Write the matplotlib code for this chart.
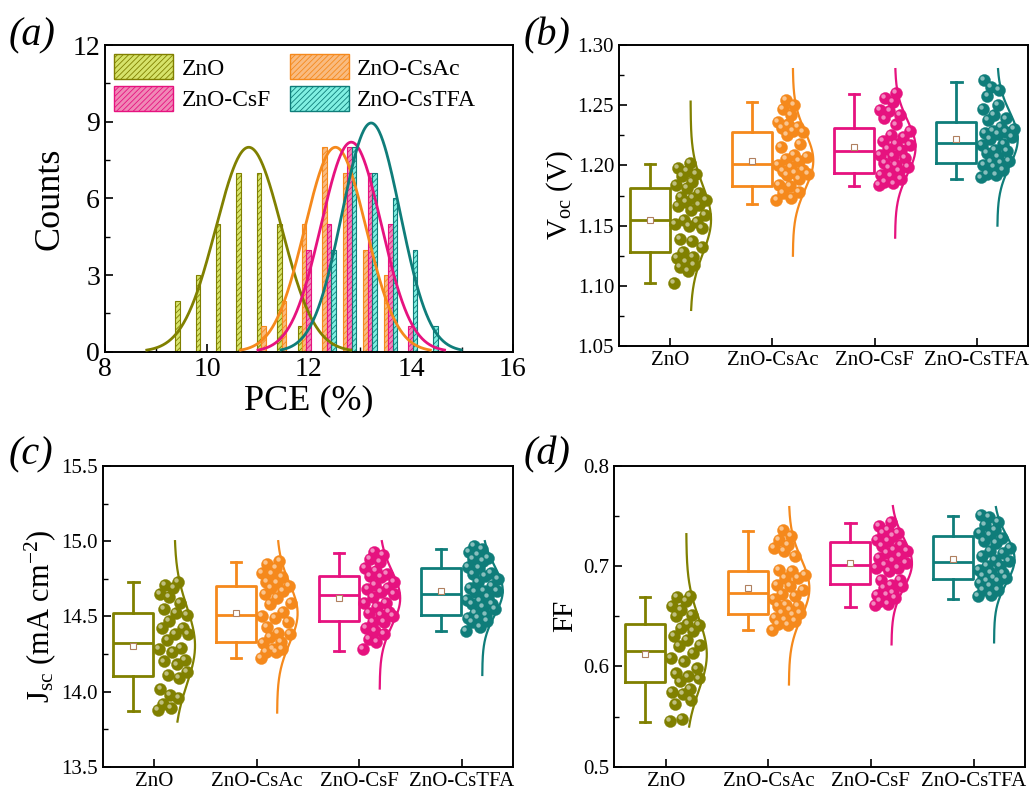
import numpy as np
import matplotlib.pyplot as plt
import matplotlib.transforms as mtrans
from matplotlib.patches import Patch
from matplotlib.ticker import MultipleLocator

plt.rcParams['font.family'] = ['Liberation Serif', 'DejaVu Serif']
plt.rcParams['mathtext.fontset'] = 'custom'
plt.rcParams['mathtext.rm'] = 'Liberation Serif'
plt.rcParams['mathtext.it'] = 'Liberation Serif:italic'
plt.rcParams['mathtext.default'] = 'regular'
plt.rcParams['hatch.linewidth'] = 0.6
plt.rcParams['xtick.direction'] = 'in'
plt.rcParams['ytick.direction'] = 'in'

# ---------------- data ----------------
groups = ['ZnO', 'ZnO-CsAc', 'ZnO-CsF', 'ZnO-CsTFA']
line_colors = ['#808000', '#f5891c', '#e6127f', '#0f7d7a']
fill_colors = ['#d6e36a', '#f9bb80', '#f088b6', '#80f0e2']

# (a) PCE histogram, bin width 0.4
pce_bins = [9.4, 9.8, 10.2, 10.6, 11.0, 11.4, 11.8, 12.2, 12.6, 13.0, 13.4, 13.8, 14.2]
cnt_zno   = [2, 3, 5, 7, 7, 5, 1, 0, 0, 0, 0, 0, 0]
cnt_csac  = [0, 0, 0, 0, 1, 2, 5, 8, 7, 4, 3, 0, 0]
cnt_csf   = [0, 0, 0, 0, 0, 0, 4, 5, 8, 7, 5, 1, 0]
cnt_cstfa = [0, 0, 0, 0, 0, 0, 0, 4, 8, 7, 6, 4, 1]
# gaussian fits: centre, sigma, height
fit_mu  = [10.82, 12.52, 12.83, 13.22]
fit_sd  = [0.645, 0.60, 0.59, 0.57]
fit_amp = [8.0, 8.0, 8.2, 8.95]

# (b) Voc box stats
voc_q1   = [1.128, 1.183, 1.194, 1.202]
voc_med  = [1.155, 1.201, 1.212, 1.219]
voc_q3   = [1.181, 1.228, 1.231, 1.236]
voc_lo   = [1.102, 1.168, 1.183, 1.189]
voc_hi   = [1.201, 1.253, 1.259, 1.269]
voc_mean = [1.155, 1.204, 1.215, 1.222]
voc_crv_lo = [1.080, 1.125, 1.140, 1.150]
voc_crv_hi = [1.253, 1.280, 1.280, 1.280]
voc_zno = [1.202, 1.198, 1.195, 1.191, 1.184, 1.193, 1.186, 1.181, 1.177, 1.174,
           1.173, 1.171, 1.166, 1.170, 1.167, 1.163, 1.159, 1.155, 1.151, 1.148,
           1.153, 1.150, 1.139, 1.137, 1.132, 1.128, 1.124, 1.120, 1.123, 1.117,
           1.116, 1.112, 1.102]
voc_csac = [1.254, 1.250, 1.247, 1.242, 1.236, 1.234, 1.231, 1.232, 1.229, 1.225,
            1.228, 1.215, 1.218, 1.209, 1.207, 1.204, 1.205, 1.200, 1.199, 1.196,
            1.195, 1.193, 1.194, 1.192, 1.189, 1.184, 1.183, 1.178, 1.177, 1.173,
            1.171]
voc_csf = [1.260, 1.256, 1.253, 1.246, 1.245, 1.239, 1.242, 1.234, 1.229, 1.225,
           1.224, 1.218, 1.220, 1.217, 1.213, 1.214, 1.209, 1.206, 1.202, 1.208,
           1.200, 1.198, 1.195, 1.192, 1.191, 1.189, 1.186, 1.185, 1.184, 1.199]
voc_cstfa = [1.271, 1.265, 1.263, 1.258, 1.250, 1.247, 1.242, 1.238, 1.239, 1.232,
             1.229, 1.227, 1.224, 1.226, 1.230, 1.228, 1.222, 1.218, 1.217, 1.213,
             1.212, 1.210, 1.207, 1.203, 1.202, 1.199, 1.200, 1.204, 1.193, 1.192,
             1.196, 1.190]

# (c) Jsc box stats
jsc_q1   = [14.10, 14.33, 14.47, 14.51]
jsc_med  = [14.32, 14.51, 14.645, 14.65]
jsc_q3   = [14.52, 14.70, 14.77, 14.82]
jsc_lo   = [13.87, 14.22, 14.27, 14.40]
jsc_hi   = [14.73, 14.86, 14.92, 14.95]
jsc_mean = [14.305, 14.52, 14.62, 14.67]
jsc_crv_lo = [13.80, 13.86, 14.02, 14.11]
jsc_crv_hi = [15.0, 15.0, 15.0, 15.0]
jsc_zno = [14.73, 14.69, 14.71, 14.65, 14.63, 14.59, 14.55, 14.52, 14.51, 14.47,
           14.42, 14.42, 14.38, 14.38, 14.34, 14.29, 14.28, 14.26, 14.21, 14.20,
           14.18, 14.13, 14.09, 14.11, 14.02, 13.98, 13.96, 13.92, 13.88, 13.89]
jsc_csac = [14.87, 14.85, 14.82, 14.79, 14.78, 14.76, 14.73, 14.72, 14.70, 14.69,
            14.67, 14.65, 14.62, 14.59, 14.58, 14.53, 14.50, 14.49, 14.46, 14.43,
            14.39, 14.38, 14.36, 14.33, 14.32, 14.28, 14.28, 14.26, 14.26, 14.22]
jsc_csf = [14.93, 14.91, 14.88, 14.86, 14.82, 14.80, 14.77, 14.78, 14.76, 14.73,
           14.71, 14.69, 14.68, 14.66, 14.65, 14.63, 14.59, 14.59, 14.56, 14.53,
           14.52, 14.51, 14.50, 14.46, 14.46, 14.42, 14.40, 14.38, 14.35, 14.33,
           14.28]
jsc_cstfa = [14.97, 14.95, 14.93, 14.91, 14.89, 14.88, 14.87, 14.83, 14.82, 14.79,
             14.78, 14.77, 14.75, 14.73, 14.70, 14.69, 14.67, 14.67, 14.66, 14.63,
             14.61, 14.60, 14.58, 14.58, 14.56, 14.55, 14.52, 14.51, 14.49, 14.49,
             14.47, 14.46, 14.43, 14.40]

# (d) FF box stats
ff_q1   = [0.584, 0.652, 0.682, 0.687]
ff_med  = [0.615, 0.673, 0.701, 0.704]
ff_q3   = [0.642, 0.695, 0.724, 0.730]
ff_lo   = [0.545, 0.636, 0.659, 0.667]
ff_hi   = [0.669, 0.735, 0.743, 0.750]
ff_mean = [0.612, 0.678, 0.703, 0.707]
ff_crv_lo = [0.540, 0.582, 0.622, 0.624]
ff_crv_hi = [0.732, 0.759, 0.760, 0.759]
ff_zno = [0.670, 0.669, 0.665, 0.660, 0.656, 0.651, 0.650, 0.642, 0.641, 0.638,
          0.635, 0.630, 0.626, 0.621, 0.620, 0.613, 0.608, 0.605, 0.598, 0.593,
          0.590, 0.588, 0.585, 0.578, 0.575, 0.573, 0.567, 0.563, 0.548, 0.546]
ff_csac = [0.736, 0.730, 0.726, 0.721, 0.718, 0.715, 0.710, 0.696, 0.695, 0.691,
           0.688, 0.688, 0.681, 0.680, 0.676, 0.672, 0.670, 0.667, 0.661, 0.660,
           0.660, 0.656, 0.653, 0.653, 0.651, 0.648, 0.646, 0.645, 0.641, 0.642,
           0.636]
ff_csf = [0.744, 0.740, 0.736, 0.733, 0.730, 0.733, 0.725, 0.726, 0.721, 0.720,
          0.716, 0.715, 0.713, 0.708, 0.710, 0.703, 0.701, 0.705, 0.698, 0.698,
          0.695, 0.686, 0.686, 0.681, 0.680, 0.678, 0.673, 0.671, 0.671, 0.668,
          0.665, 0.661, 0.662]
ff_cstfa = [0.751, 0.749, 0.744, 0.741, 0.736, 0.733, 0.731, 0.728, 0.725, 0.723,
            0.718, 0.715, 0.713, 0.710, 0.706, 0.705, 0.700, 0.700, 0.696, 0.693,
            0.693, 0.690, 0.688, 0.688, 0.685, 0.683, 0.685, 0.680, 0.676, 0.676,
            0.671, 0.670]

# ---------------- figure ----------------
fig = plt.figure(figsize=(10.31, 7.94), dpi=100)
ax_a = fig.add_axes([0.1018, 0.557, 0.3957, 0.3863])
ax_b = fig.add_axes([0.6004, 0.5642, 0.3967, 0.3791])
ax_c = fig.add_axes([0.0996, 0.0344, 0.3980, 0.3787])
ax_d = fig.add_axes([0.5960, 0.0344, 0.3980, 0.3787])

for ax in [ax_a, ax_b, ax_c, ax_d]:
    for s in ax.spines.values():
        s.set_linewidth(1.4)
    ax.tick_params(which='major', length=6, width=1.2)
    ax.tick_params(which='minor', length=3.5, width=1.0)

# (a) histogram
counts = [cnt_zno, cnt_csac, cnt_csf, cnt_cstfa]
bins = np.array(pce_bins)
bw = 0.088
for i in range(4):
    ax_a.bar(bins + 0.02 + i * 0.088, counts[i], width=bw, color=fill_colors[i],
             edgecolor=line_colors[i], linewidth=0.8, hatch='//////', zorder=2)
for i in range(4):
    xs = np.linspace(fit_mu[i] - 3.1 * fit_sd[i], fit_mu[i] + 3.1 * fit_sd[i], 300)
    ax_a.plot(xs, fit_amp[i] * np.exp(-(xs - fit_mu[i]) ** 2 / (2 * fit_sd[i] ** 2)),
              color=line_colors[i], lw=2, zorder=3)
ax_a.set_xlim(8, 16)
ax_a.set_ylim(0, 12)
ax_a.xaxis.set_major_locator(MultipleLocator(2))
ax_a.xaxis.set_minor_locator(MultipleLocator(1))
ax_a.yaxis.set_major_locator(MultipleLocator(3))
ax_a.yaxis.set_minor_locator(MultipleLocator(1.5))
ax_a.tick_params(labelsize=20)
ax_a.set_xlabel('PCE (%)', fontsize=26, labelpad=2)
ax_a.set_ylabel('Counts', fontsize=26, labelpad=4)
handles = [Patch(facecolor=fill_colors[i], edgecolor=line_colors[i], hatch='//////',
                 linewidth=1.0) for i in range(4)]
ax_a.legend([handles[0], handles[2], handles[1], handles[3]],
            [groups[0], groups[2], groups[1], groups[3]],
            ncol=2, loc='upper left', frameon=False, fontsize=17,
            handlelength=2.5, handleheight=1.25, borderaxespad=0.1, borderpad=0.3,
            columnspacing=0.8, handletextpad=0.35, labelspacing=0.25)


def box_panel(ax, q1, med, q3, lo, hi, mean, crv_lo, crv_hi, pts):
    pos = np.arange(1, 5)
    for i in range(4):
        c = line_colors[i]
        st = [dict(q1=q1[i], med=med[i], q3=q3[i], whislo=lo[i], whishi=hi[i],
                   mean=mean[i], fliers=[])]
        ax.bxp(st, positions=[pos[i] - 0.2], widths=0.39, showmeans=True,
               capwidths=0.1,
               boxprops=dict(color=c, lw=2), medianprops=dict(color=c, lw=2),
               whiskerprops=dict(color=c, lw=2), capprops=dict(color=c, lw=2),
               meanprops=dict(marker='s', markersize=5, markerfacecolor='white',
                              markeredgecolor='#b08060', markeredgewidth=0.8))
        y = np.array(pts[i])
        sd = np.std(y)
        yy = np.linspace(crv_lo[i], crv_hi[i], 200)
        g = np.exp(-(yy - mean[i]) ** 2 / (2 * sd ** 2))
        ax.plot(pos[i] + 0.2 + 0.2 * g, yy, color=c, lw=1.6, zorder=2)
        ys = np.sort(y)
        u = (np.arange(len(ys)) * 0.618034) % 1
        gy = np.exp(-(ys - mean[i]) ** 2 / (2 * sd ** 2))
        xs = pos[i] + 0.04 + u * (0.16 + 0.18 * gy)
        ax.scatter(xs, ys, s=75, color=c, edgecolor=c, linewidth=0.3, zorder=3)
        tr = mtrans.offset_copy(ax.transData, fig=ax.figure, x=-1.4, y=1.4, units='points')
        ax.scatter(xs, ys, s=10, color='white', alpha=0.5, linewidth=0,
                   zorder=4, transform=tr)
    ax.set_xlim(0.5, 4.5)
    ax.set_xticks(pos)
    ax.set_xticklabels(groups, fontsize=15)
    ax.tick_params(axis='y', labelsize=15)


box_panel(ax_b, voc_q1, voc_med, voc_q3, voc_lo, voc_hi, voc_mean, voc_crv_lo, voc_crv_hi,
          [voc_zno, voc_csac, voc_csf, voc_cstfa])
ax_b.set_ylim(1.05, 1.30)
ax_b.yaxis.set_major_locator(MultipleLocator(0.05))
ax_b.yaxis.set_minor_locator(MultipleLocator(0.025))
ax_b.yaxis.set_major_formatter('{x:.2f}')
ax_b.set_ylabel('V$_{oc}$ (V)', fontsize=21, labelpad=2)

box_panel(ax_c, jsc_q1, jsc_med, jsc_q3, jsc_lo, jsc_hi, jsc_mean, jsc_crv_lo, jsc_crv_hi,
          [jsc_zno, jsc_csac, jsc_csf, jsc_cstfa])
ax_c.set_ylim(13.5, 15.5)
ax_c.yaxis.set_major_locator(MultipleLocator(0.5))
ax_c.yaxis.set_minor_locator(MultipleLocator(0.25))
ax_c.yaxis.set_major_formatter('{x:.1f}')
ax_c.set_ylabel('J$_{sc}$ (mA cm$^{-2}$)', fontsize=22, labelpad=2)

box_panel(ax_d, ff_q1, ff_med, ff_q3, ff_lo, ff_hi, ff_mean, ff_crv_lo, ff_crv_hi,
          [ff_zno, ff_csac, ff_csf, ff_cstfa])
ax_d.set_ylim(0.5, 0.8)
ax_d.yaxis.set_major_locator(MultipleLocator(0.1))
ax_d.yaxis.set_minor_locator(MultipleLocator(0.05))
ax_d.yaxis.set_major_formatter('{x:.1f}')
ax_d.set_ylabel('FF', fontsize=21, labelpad=4)

for lab, x, y in [('(a)', 0.008, 0.943), ('(b)', 0.508, 0.943),
                  ('(c)', 0.008, 0.415), ('(d)', 0.508, 0.415)]:
    fig.text(x, y, lab, fontsize=29, fontstyle='italic')

fig.savefig('out.png', dpi=100)
